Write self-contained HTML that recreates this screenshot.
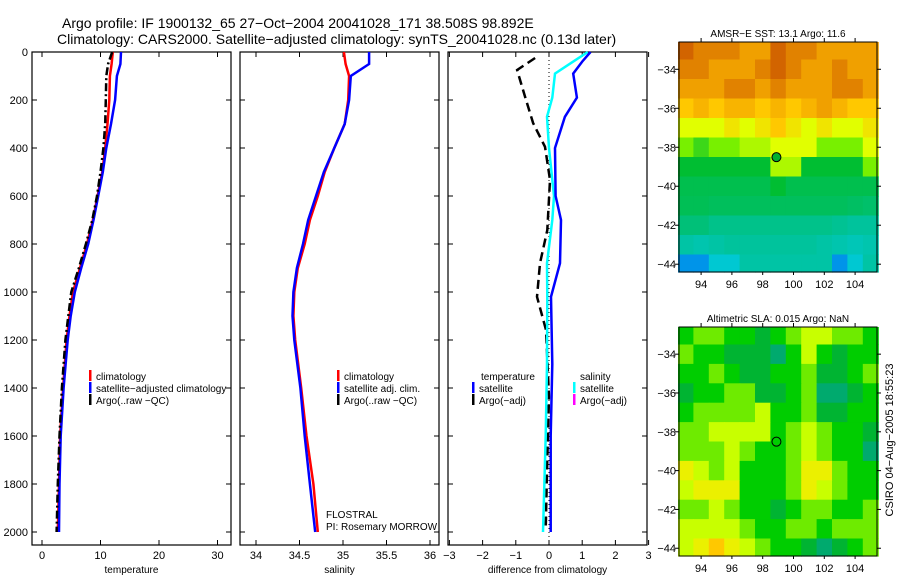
<!DOCTYPE html>
<html><head><meta charset="utf-8"><style>
body{margin:0;background:#fff;}
svg text{font-family:"Liberation Sans",sans-serif;fill:#000;}
</style></head><body>
<svg id="fig" width="900" height="580" xmlns="http://www.w3.org/2000/svg">
<text x="62" y="28" font-size="14">Argo profile: IF 1900132_65 27−Oct−2004 20041028_171 38.508S 98.892E</text>
<text x="57" y="44" font-size="14">Climatology: CARS2000. Satellite−adjusted climatology: synTS_20041028.nc (0.13d later)</text>
<text transform="translate(893,440) rotate(-90)" text-anchor="middle" font-size="11">CSIRO 04−Aug−2005 18:55:23</text>
<g id="g"></g>
</svg>
<script>
// ---------- profile data ----------
const depthT = [0,50,100,200,300,400,500,600,700,800,900,1000,1100,1200,1400,1600,1800,2000];
const tempClim = [12.1,11.9,11.6,11.5,11.2,10.8,10.3,9.5,8.7,7.7,6.5,5.3,4.7,4.2,3.6,3.1,2.9,2.7];
const tempSat = [13.5,13.4,12.8,12.5,11.8,11.0,10.4,9.6,8.8,7.9,6.7,5.6,4.9,4.4,3.7,3.2,3.0,2.9];
const tempArgo = [12.0,11.3,11.0,10.9,10.8,10.5,10.0,9.4,8.6,7.5,6.3,5.0,4.5,4.0,3.4,3.0,2.7,2.5];
const salClim = [35.01,35.03,35.07,35.06,35.02,34.9,34.79,34.71,34.62,34.56,34.48,34.44,34.43,34.45,34.52,34.58,34.66,34.71];
const salSat = [35.3,35.3,35.09,35.07,35.02,34.9,34.78,34.69,34.6,34.54,34.47,34.43,34.42,34.44,34.51,34.56,34.62,34.68];
const depthD1 = [0,40,90,190,270,400,600,700,880,1020,1300,1600,2000];
const diffTSat = [1.25,1.0,0.73,0.84,0.48,0.18,0.2,0.36,0.33,0.06,0.1,0.05,0.05];
const diffSSat = [1.17,0.73,0.18,0.1,-0.06,0.0,0.15,0.1,-0.06,-0.05,-0.06,-0.1,-0.18];
const depthD2 = [25,75,187,296,395,533,742,880,1020,1158,1437,1700,1990];
const diffTArgo = [-0.42,-0.96,-0.72,-0.48,-0.12,0.03,-0.05,-0.27,-0.36,-0.09,0.0,-0.05,-0.1];
// ---------- map data ----------
const mapLons = [93,94,95,96,97,98,99,100,101,102,103,104,105];
const mapLats = [-33,-34,-35,-36,-37,-38,-39,-40,-41,-42,-43,-44];
const sstGrid = [
[17,16.5,16.5,16.5,16,16,17,16.5,16.5,16,16,16,16],
[16.5,16.5,16,16,16,16.5,17,16.5,16,16,16.5,16,16],
[16,16,16,16.5,16.5,16,16.5,16,16,16,16.5,16.5,16],
[15,15.5,15,15.5,15.5,15,15.5,15,15.5,16,15.5,15,15],
[14,14,14,14.5,14,14.5,15,14.5,14,14.5,14,14,14.5],
[13,12.5,13,13,13.5,13.5,14,14,14,13,13,13,14],
[12,12,12,12,12,12,13.5,13.5,12,12,12,12,13],
[11.6,11.6,11.6,11.6,11.6,11.6,12,11.6,11.6,11.6,11.6,11.6,11.6],
[11.5,11.5,11.4,11.4,11.4,11.4,11.4,11.4,11.4,11.4,11.4,11.3,11.2],
[11,11,10.8,10.8,10.8,10.8,10.8,10.8,10.8,10.8,10.7,10.6,10.6],
[10.5,10.4,10.5,10.6,10.6,10.6,10.6,10.6,10.6,10.5,10.4,10.3,10.4],
[9.5,9.5,10,10,10.5,10.5,10.5,10.5,10.5,10.5,9.5,10,10.5]];
const slaLevel = [
[2,3,3,2,2,1,2,3,4,4,3,3,2],
[3,2,2,1,1,1,0,2,4,2,1,2,2],
[2,2,3,2,1,1,2,2,3,1,1,2,3],
[1,2,2,3,3,1,1,2,3,0,0,1,2],
[2,3,3,3,3,4,2,2,3,1,1,2,2],
[3,3,4,4,4,4,2,3,4,3,2,2,1],
[3,3,3,4,3,2,2,3,4,3,2,2,0],
[5,4,3,4,2,2,2,3,5,5,3,2,2],
[4,5,5,5,2,2,2,3,5,4,3,2,2],
[3,3,4,3,2,2,1,2,3,3,2,2,3],
[4,4,4,4,3,2,2,3,3,2,3,3,3],
[4,5,6,5,4,3,2,2,1,0,1,2,3]];
const argoLon = 98.892, argoLat = -38.508;
const depthTicks = [0,200,400,600,800,1000,1200,1400,1600,1800,2000];
const tempTicks = [0,10,20,30];
const salTicks = [34,34.5,35,35.5,36];
const diffTicks = [-3,-2,-1,0,1,2,3];
const lonTicks = [94,96,98,100,102,104];
const latTicks = [-34,-36,-38,-40,-42,-44];

const NS="http://www.w3.org/2000/svg";
const G=document.getElementById('g');
function mk(tag,attrs,parent){const e=document.createElementNS(NS,tag);for(const k in attrs)e.setAttribute(k,attrs[k]);(parent||G).appendChild(e);return e;}
function txt(x,y,s,size,anchor,parent){const t=mk('text',{x:x,y:y,'font-size':size||11,'text-anchor':anchor||'start'},parent);t.textContent=s;return t;}

const yD = d => 52 + d*0.24;
const panels = [
 {name:'temperature',x0:32,x1:231,xs:v=>42+v*5.85,ticks:tempTicks,label:'temperature'},
 {name:'salinity',x0:240,x1:439,xs:v=>256+(v-34)*87,ticks:salTicks,label:'salinity'},
 {name:'difference',x0:448,x1:647,xs:v=>549+v*33.2,ticks:diffTicks,label:'difference from climatology'}];
const P0=545;
panels.forEach((p,i)=>{
  const ax=mk('g',{});
  
  
  mk('rect',{x:p.x0,y:52,width:p.x1-p.x0,height:P0-52,fill:'none',stroke:'#000','stroke-width':1.2},ax);
  depthTicks.forEach(d=>{const y=yD(d);
    mk('line',{x1:p.x0,x2:p.x0+5,y1:y,y2:y,stroke:'#000'},ax);
    mk('line',{x1:p.x1,x2:p.x1-5,y1:y,y2:y,stroke:'#000'},ax);
    if(i==0){const t=txt(28,y+4,String(d),11,'end',ax);}
  });
  p.ticks.forEach(v=>{const x=p.xs(v);
    mk('line',{x1:x,x2:x,y1:52,y2:57,stroke:'#000'},ax);
    mk('line',{x1:x,x2:x,y1:P0,y2:P0-5,stroke:'#000'},ax);
    const t=txt(x,559,String(v).replace('-','−'),11,'middle',ax);
    
    
  });
  const lab=txt((p.x0+p.x1)/2,573,p.label,10,'middle',ax);
  
  
});
function line(xs,depths,vals,color,dash,name){
  const pts=vals.map((v,k)=>xs(v).toFixed(1)+','+yD(depths[k]).toFixed(1)).join(' ');
  const l=mk('polyline',{points:pts,fill:'none',stroke:color,'stroke-width':2.5});
  if(dash)l.setAttribute('stroke-dasharray',dash);
  
  
}
const [p1,p2,p3]=panels;
mk('line',{x1:p3.xs(0),x2:p3.xs(0),y1:52,y2:P0,stroke:'#000','stroke-dasharray':'1,3'});
line(p1.xs,depthT,tempClim,'#ff0000',null,'temp-climatology-line');
line(p1.xs,depthT,tempSat,'#0000ff',null,'temp-satellite-line');
line(p1.xs,depthT,tempArgo,'#000',"8,3,2,3",'temp-argo-line');
line(p2.xs,depthT,salClim,'#ff0000',null,'sal-climatology-line');
line(p2.xs,depthT,salSat,'#0000ff',null,'sal-satellite-line');
line(p3.xs,depthD2,diffTArgo,'#000',"9,5",'diff-temp-argo-line');
line(p3.xs,depthD1,diffSSat,'#00ffff',null,'diff-sal-satellite-line');
line(p3.xs,depthD1,diffTSat,'#0000ff',null,'diff-temp-satellite-line');
function legend(x,y,color,label,name){
  const g=mk('g',{});
  
  
  if(color)mk('rect',{x:x,y:y-10,width:2.5,height:11,fill:color},g);
  txt(x+7,y,label,10,'start',g);
}
legend(89,380,'#ff0000','climatology','legend-climatology');
legend(89,392,'#0000ff','satellite−adjusted climatology','legend-satellite-adjusted');
legend(89,404,'#000','Argo(..raw −QC)','legend-argo');
legend(337,380,'#ff0000','climatology','legend-sal-climatology');
legend(337,392,'#0000ff','satellite adj. clim.','legend-sal-satellite');
legend(337,404,'#000','Argo(..raw −QC)','legend-sal-argo');
legend(474,380,null,'temperature','legend-temperature-heading');
legend(472,392,'#0000ff','satellite','legend-temp-satellite');
legend(472,404,'#000','Argo(−adj)','legend-temp-argo');
legend(573,380,null,'salinity','legend-salinity-heading');
legend(573,392,'#00ffff','satellite','legend-sal-satellite-diff');
legend(573,404,'#ff00ff','Argo(−adj)','legend-sal-argo-diff');
const f1=txt(326,518,'FLOSTRAL',10);
const f2=txt(326,530,'PI: Rosemary MORROW',10);

function lerpColor(stops,v){
  if(v<=stops[0][0])return stops[0][1];
  for(let k=1;k<stops.length;k++){if(v<=stops[k][0]){const a=stops[k-1],b=stops[k];const t=(v-a[0])/(b[0]-a[0]);
    const c=a[1].map((q,j)=>Math.round(q+(b[1][j]-q)*t));return c;}}
  return stops[stops.length-1][1];
}
const sstStops=[[9,[0,96,255]],[10,[0,200,210]],[11,[0,192,120]],[12,[0,190,50]],[13,[120,240,0]],[14,[225,255,0]],[15,[255,200,0]],[16,[240,160,0]],[17,[210,100,0]],[18,[190,50,0]]];
const slaStops=[[-0.12,[0,170,110]],[-0.06,[0,180,50]],[0,[0,205,0]],[0.06,[110,235,0]],[0.12,[200,255,0]],[0.18,[235,240,0]],[0.24,[255,200,0]]];
function drawMap(top,bot,grid,valFn,stops,title,name,circleFill){
  const L=679,R=877;
  const lonX=lon=>678+(lon-92.5)*15.4;
  const latY=lat=>top+(-32.6-lat)*(bot-top)/11.8;
  const g=mk('g',{});
  
  
  grid.forEach((row,r)=>row.forEach((v,c)=>{
    const x0=lonX(mapLons[c]-0.5),x1=lonX(mapLons[c]+0.5);
    const y0=Math.max(top,latY(mapLats[r]+0.5)),y1=Math.min(bot,latY(mapLats[r]-0.5));
    const col=lerpColor(stops,valFn(v));
    const cell=mk('rect',{x:x0.toFixed(1),y:y0.toFixed(1),width:(x1-x0+0.6).toFixed(1),height:(y1-y0+0.6).toFixed(1),fill:'rgb('+col.join(',')+')'},g);
    
    
  }));
  mk('rect',{x:L,y:top,width:R-L,height:bot-top,fill:'none',stroke:'#000'},g);
  lonTicks.forEach(lon=>{const x=lonX(lon);
    mk('line',{x1:x,x2:x,y1:top,y2:top-4,stroke:'#000'},g);
    mk('line',{x1:x,x2:x,y1:bot,y2:bot+3,stroke:'#000'},g);
    txt(x,bot+16,String(lon),11,'middle',g);});
  latTicks.forEach(lat=>{const y=latY(lat);
    mk('line',{x1:L,x2:L-4,y1:y,y2:y,stroke:'#000'},g);
    mk('line',{x1:R,x2:R+4,y1:y,y2:y,stroke:'#000'},g);
    txt(L-3,y+4,String(lat).replace('-','−'),11,'end',g);});
  txt((L+R)/2,top-5,title,10,'middle',g);
  const c=mk('circle',{cx:lonX(argoLon),cy:latY(argoLat),r:4.5,fill:circleFill,stroke:'#000'},g);
  
  
}
drawMap(42,272,sstGrid,v=>v,sstStops,'AMSR−E SST: 13.1 Argo: 11.6','sst-map','#00b030');
drawMap(327,556,slaLevel,v=>(v-2)*0.06,slaStops,'Altimetric SLA: 0.015 Argo: NaN','sla-map','none');
</script>
</body></html>
